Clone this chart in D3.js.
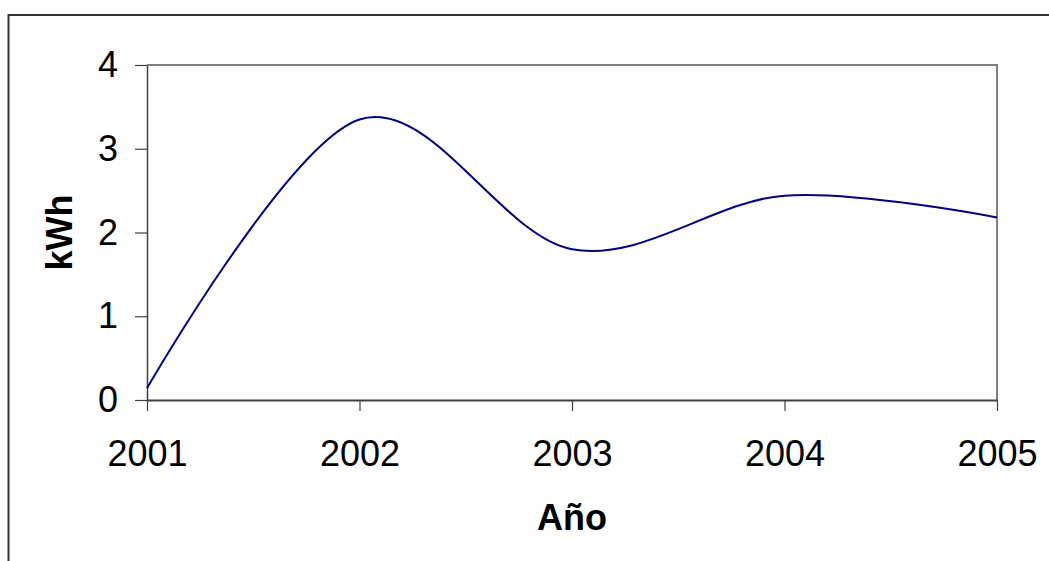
<!DOCTYPE html>
<html>
<head>
<meta charset="utf-8">
<script src="https://cdn.jsdelivr.net/npm/d3@7"></script>
<style>
  body { margin: 0; background: #fff; }
  svg { display: block; font-family: "Liberation Sans", Arial, sans-serif; }
</style>
</head>
<body>
<div id="container"></div>
<script>
// data
const years = [2001, 2002, 2003, 2004, 2005]
const kwh = [0.14, 3.35, 1.80, 2.44, 2.18]
const yTicks = [0, 1, 2, 3, 4]
const xTitle = "Año"
const yTitle = "kWh"

const W = 1049, H = 561
const plot = { left: 147, right: 997, top: 65, bottom: 400 }

const data = years.map((yr, i) => ({ year: yr, value: kwh[i] }))

const svg = d3.select("#container")
    .append("svg")
    .attr("width", W)
    .attr("height", H)

const x = d3.scaleLinear()
    .domain([2001, 2005])
    .range([plot.left, plot.right])

const y = d3.scaleLinear()
    .domain([0, 4])
    .range([plot.bottom, plot.top])

/* OUTER FRAME (cut off on right and bottom) */
svg.append("path")
    .attr("d", `M8.5,${H + 2} V15 H${W + 2}`)
    .attr("fill", "none")
    .attr("stroke", "#333")
    .attr("stroke-width", 2)

/* PLOT BORDER top + right */
svg.append("path")
    .attr("d", `M${plot.left},${plot.top} H${plot.right} V${plot.bottom}`)
    .attr("fill", "none")
    .attr("stroke", "#808080")
    .attr("stroke-width", 2)

/* Y AXIS */
const yAxis = svg.append("g")
    .attr("transform", `translate(${plot.left},0)`)
    .call(d3.axisLeft(y)
        .tickValues(yTicks)
        .tickSize(12)
        .tickSizeOuter(0)
        .tickPadding(17)
        .tickFormat(d3.format("d")))
yAxis.select(".domain").attr("stroke", "#404040").attr("stroke-width", 1.5)
yAxis.selectAll(".tick line").attr("stroke", "#404040").attr("stroke-width", 1.2)
yAxis.selectAll(".tick text")
    .attr("fill", "#000")
    .style("font-size", "36px")
    .style("font-family", "'Liberation Sans', Arial, sans-serif")

/* X AXIS */
const xAxis = svg.append("g")
    .attr("transform", `translate(0,${plot.bottom})`)
    .call(d3.axisBottom(x)
        .tickValues(years)
        .tickSize(11)
        .tickSizeOuter(0)
        .tickPadding(29)
        .tickFormat(d3.format("d")))
xAxis.select(".domain").attr("stroke", "#404040").attr("stroke-width", 2)
xAxis.selectAll(".tick line").attr("stroke", "#404040").attr("stroke-width", 1.2)
xAxis.selectAll(".tick text")
    .attr("fill", "#000")
    .style("font-size", "36px")
    .style("font-family", "'Liberation Sans', Arial, sans-serif")

/* AXIS TITLES */
svg.append("text")
    .attr("x", (plot.left + plot.right) / 2)
    .attr("y", 530)
    .attr("text-anchor", "middle")
    .style("font-size", "36px")
    .style("font-weight", "bold")
    .text(xTitle)

svg.append("text")
    .attr("transform", `translate(72,${(plot.top + plot.bottom) / 2}) rotate(-90)`)
    .attr("text-anchor", "middle")
    .style("font-size", "36px")
    .style("font-weight", "bold")
    .text(yTitle)

/* LINE (smoothed like the spreadsheet) */
const line = d3.line()
    .x(d => x(d.year))
    .y(d => y(d.value))
    .curve(d3.curveCardinal.tension(0))

svg.append("path")
    .datum(data)
    .attr("fill", "none")
    .attr("stroke", "#000080")
    .attr("stroke-width", 2)
    .attr("d", line)
</script>
</body>
</html>
